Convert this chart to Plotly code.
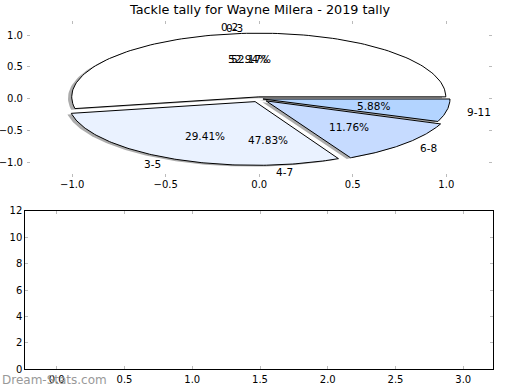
import math
import plotly.graph_objects as go

# ---- data ----
title_text = "Tackle tally for Wayne Milera - 2019 tally"
labels_a = ["0-2", "3-5", "6-8", "9-11"]
values_a = [9, 5, 2, 1]
labels_b = ["0-3", "4-7"]
values_b = [12, 11]
bar_x = []
bar_y = []

# ---- style ----
colors_a = ["#ffffff", "#eaf2ff", "#c6dbff", "#b3d4ff"]
explode_a = [0.03, 0.05, 0.05, 0.02]
explode_b = [0.02, 0.05]
LABEL_DIST = 1.1
PCT_DIST = 0.6
FONT = "DejaVu Sans"
SHADOW_OFF = (-0.02, -0.02)


def wedges(values, explode):
    total = float(sum(values))
    out = []
    start = 0.0
    for v, e in zip(values, explode):
        frac = v / total
        t1 = start
        t2 = start + frac * 360.0
        tm = math.radians((t1 + t2) / 2.0)
        cx = e * math.cos(tm)
        cy = e * math.sin(tm)
        out.append(dict(t1=t1, t2=t2, tm=tm, cx=cx, cy=cy, frac=frac))
        start = t2
    return out


def wedge_path(w, dx=0.0, dy=0.0, n=120):
    xs = [w["cx"] + dx]
    ys = [w["cy"] + dy]
    for i in range(n + 1):
        a = math.radians(w["t1"] + (w["t2"] - w["t1"]) * i / n)
        xs.append(w["cx"] + dx + math.cos(a))
        ys.append(w["cy"] + dy + math.sin(a))
    xs.append(w["cx"] + dx)
    ys.append(w["cy"] + dy)
    return xs, ys


fig = go.Figure()

wa = wedges(values_a, explode_a)
wb = wedges(values_b, explode_b)

# shadows
for w in wa:
    xs, ys = wedge_path(w, *SHADOW_OFF)
    fig.add_trace(go.Scatter(x=xs, y=ys, mode="lines", fill="toself",
                             fillcolor="rgba(70,70,70,0.45)",
                             line=dict(width=0), hoverinfo="skip",
                             showlegend=False, xaxis="x", yaxis="y"))
# wedges
for w, c in zip(wa, colors_a):
    xs, ys = wedge_path(w)
    fig.add_trace(go.Scatter(x=xs, y=ys, mode="lines", fill="toself",
                             fillcolor=c, line=dict(color="black", width=1),
                             hoverinfo="skip", showlegend=False,
                             xaxis="x", yaxis="y"))

annotations = []


def add_texts(ws, labels):
    for w, lab in zip(ws, labels):
        ca, sa = math.cos(w["tm"]), math.sin(w["tm"])
        xt = w["cx"] + LABEL_DIST * ca
        yt = w["cy"] + LABEL_DIST * sa
        annotations.append(dict(x=xt, y=yt, xref="x", yref="y", text=lab,
                                showarrow=False,
                                xanchor="left" if xt > 0 else "right",
                                yanchor="middle",
                                font=dict(family=FONT, size=10.5, color="black")))
        xp = w["cx"] + PCT_DIST * ca
        yp = w["cy"] + PCT_DIST * sa
        annotations.append(dict(x=xp, y=yp, xref="x", yref="y",
                                text="%.2f%%" % (w["frac"] * 100),
                                showarrow=False, xanchor="center",
                                yanchor="middle",
                                font=dict(family=FONT, size=10.5, color="black")))


add_texts(wb, labels_b)
add_texts(wa, labels_a)

# bottom (empty) axes
fig.add_trace(go.Bar(x=bar_x, y=bar_y, xaxis="x2", yaxis="y2",
                     showlegend=False, hoverinfo="skip"))

annotations.append(dict(x=0.0, y=0.0, xref="paper", yref="paper",
                        xanchor="left", yanchor="bottom", yshift=1,
                        text="Dream-Stats.com", showarrow=False,
                        font=dict(family=FONT, size=12, color="#999999")))

tick_font = dict(family=FONT, size=10, color="black")
top_common = dict(showgrid=False, zeroline=False, showline=False,
                  ticks="inside", ticklen=3, tickcolor="#bbbbbb", tickwidth=1,
                  mirror="ticks", tickformat=".1f", tickfont=tick_font,
                  fixedrange=True, automargin=False)

fig.update_layout(
    template="none",
    width=520, height=390,
    margin=dict(l=0, r=0, t=0, b=0, pad=0),
    paper_bgcolor="white", plot_bgcolor="white",
    title=dict(text=title_text, x=0.5, xanchor="center", y=0.975,
               yanchor="middle",
               font=dict(family=FONT, size=12.8, color="black")),
    xaxis=dict(domain=[0.0519, 0.946], range=[-1.242, 1.244],
               tickvals=[-1, -0.5, 0, 0.5, 1], anchor="y", **top_common),
    yaxis=dict(domain=[0.546, 0.946], range=[-1.229, 1.22],
               tickvals=[-1, -0.5, 0, 0.5, 1], anchor="x",
               ticklabelstandoff=3, **top_common),
    xaxis2=dict(domain=[0.0487, 0.9487], range=[-0.232, 3.222],
                tickvals=[0, 0.5, 1, 1.5, 2, 2.5, 3], tickformat=".1f",
                anchor="y2", showgrid=False, zeroline=False,
                showline=True, linecolor="black", linewidth=1,
                ticks="inside", ticklen=3, tickcolor="#bbbbbb",
                mirror="ticks", tickfont=tick_font, fixedrange=True,
                ticklabelstandoff=1, automargin=False),
    yaxis2=dict(domain=[0.0531, 0.4597], range=[0, 12],
                tickvals=[0, 2, 4, 6, 8, 10, 12], tickformat="d",
                anchor="x2", showgrid=False, zeroline=False,
                showline=True, linecolor="black", linewidth=1,
                ticks="inside", ticklen=3, tickcolor="#bbbbbb",
                mirror="ticks", tickfont=tick_font, fixedrange=True,
                automargin=False),
    annotations=annotations,
    font=dict(family=FONT),
)

fig.write_html("out.html", config={"displayModeBar": False},
               post_script="document.body.style.margin='0';")
